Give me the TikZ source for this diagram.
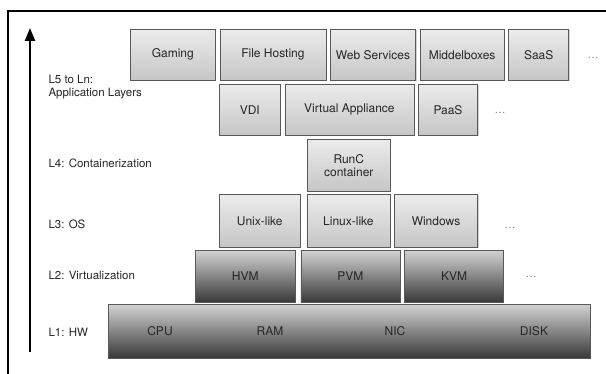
\documentclass[tikz,border=0pt]{standalone}
\usepackage{fontspec}
\setmainfont{TeX Gyre Heros}
\usepackage{tikz}
\usetikzlibrary{arrows.meta,positioning,shadows}
\definecolor{cbord}{rgb}{0.35,0.35,0.35}
\definecolor{ctext}{rgb}{0.15,0.15,0.15}

\begin{document}
\begin{tikzpicture}[x=1pt,y=-1pt,node distance=4pt,
  light box/.style={draw=cbord,line width=0.6pt,top color=gray!15,bottom color=gray!45,
        drop shadow={shadow xshift=1pt,shadow yshift=-1.2pt,opacity=0.35},
        inner sep=0pt,minimum height=51pt,align=center,font=\fontsize{12}{13}\selectfont,text=ctext},
  dark box/.style={draw=cbord,line width=0.6pt,top color=gray!35,bottom color=black!78,
        inner sep=0pt,minimum height=52pt,font=\fontsize{12}{13}\selectfont,text=ctext},
  layer label/.style={anchor=west,align=left,font=\fontsize{11.5}{13}\selectfont,text=ctext},
  more dots/.style={text=gray,font=\fontsize{11}{12}\selectfont}]
  \useasboundingbox (0,0) rectangle (606,374);
  \draw[line width=2pt] (8,380) -- (8,11) -- (612,11);

  % layer axis
  \coordinate (axisbot) at (30,352);
  \coordinate (axistop) at (30,28);
  \draw[line width=2.4pt,-{Triangle[length=13pt,width=10pt]}] (axisbot) -- (axistop);

  \node[layer label] (l5) at (45,87) {L5 to Ln:\\Application Layers};
  \node[layer label] (l4) at (45,163) {L4: Containerization};
  \node[layer label] (l3) at (45,224) {L3: OS};
  \node[layer label] (l2) at (45,275) {L2: Virtualization};
  \node[layer label] (l1) at (45,332) {L1: HW};

  % L5 to Ln
  \node[light box,anchor=north west,minimum width=85pt] (gaming) at (130,29) {Gaming};
  \node[light box,minimum width=106pt,right=of gaming] (filehost) {File Hosting};
  \node[light box,minimum width=85pt,right=of filehost] (websvc) {Web Services};
  \node[light box,minimum width=84pt,right=of websvc] (middle) {Middelboxes};
  \node[light box,minimum width=60pt,right=of middle] (saas) {SaaS};
  \node[more dots] (dots5) at (593,58) {\ldots};

  \node[light box,anchor=north west,minimum width=61pt] (vdi) at (219,84) {VDI};
  \node[light box,minimum width=129pt,right=of vdi] (vapp) {Virtual Appliance};
  \node[light box,minimum width=59pt,right=of vapp] (paas) {PaaS};
  \node[more dots] (dots5b) at (500,113) {\ldots};

  % L4
  \node[light box,anchor=north west,minimum width=83pt,minimum height=52pt] (runc) at (307,139) {RunC\\container};

  % L3
  \node[light box,anchor=north west,minimum width=81pt,minimum height=53pt] (unix) at (219,194) {Unix-like};
  \node[light box,minimum width=83pt,minimum height=53pt,right=6pt of unix] (linux) {Linux-like};
  \node[light box,minimum width=83pt,minimum height=53pt,right=of linux] (windows) {Windows};
  \node[more dots] (dots3) at (510,228) {\ldots};

  % L2
  \node[dark box,anchor=north west,minimum width=100pt] (hvm) at (195,250) {HVM};
  \node[dark box,minimum width=99pt,right=5pt of hvm] (pvm) {PVM};
  \node[dark box,minimum width=99pt,right=of pvm] (kvm) {KVM};
  \node[more dots] (dots2) at (531,277) {\ldots};

  % L1
  \node[dark box,anchor=north west,minimum width=482pt,minimum height=54pt] (hw) at (108,304) {};
  \node[text=ctext,font=\fontsize{12}{13}\selectfont] (cpu) at (160,331) {CPU};
  \node[text=ctext,font=\fontsize{12}{13}\selectfont] (ram) at (270,331) {RAM};
  \node[text=ctext,font=\fontsize{12}{13}\selectfont] (nic) at (395,331) {NIC};
  \node[text=ctext,font=\fontsize{12}{13}\selectfont] (disk) at (534,331) {DISK};
\end{tikzpicture}
\end{document}
